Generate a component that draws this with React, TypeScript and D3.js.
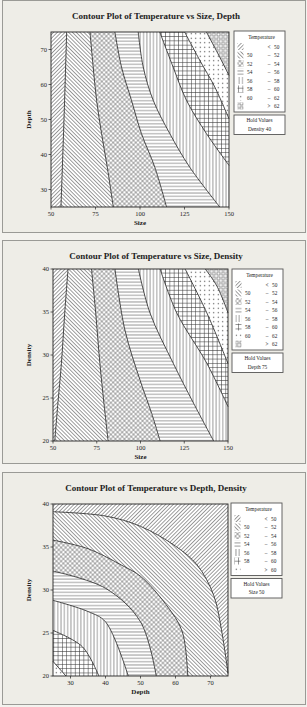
import * as d3 from "d3";
import React from "react";

type Pt = [number, number];

// contour levels for temperature
const levels8 = [50, 52, 54, 56, 58, 60, 62];
const levels7 = [50, 52, 54, 56, 58, 60];

// panel 1: Size (x) vs Depth (y), Density held at 40
const sizeDepthCurves: Pt[][] = [
  [[58.8, 75], [57.3, 50], [55.6, 25]],
  [[71.9, 75], [73.7, 65], [75.6, 55.5], [78.4, 46], [81.6, 36.4], [85, 25]],
  [[85.9, 75], [89.6, 65], [95.2, 55.5], [100.8, 46], [108.3, 36.4], [114.9, 25]],
  [[99, 75], [101.8, 65], [107.4, 55.5], [116.7, 46], [127.9, 36.4], [144.8, 25]],
  [[111.1, 75], [118.6, 65], [126.1, 55.5], [137.3, 46], [150, 36.9]],
  [[125.1, 75], [133.6, 66.9], [142, 59.3], [150, 50.2]],
  [[137.3, 75], [143.8, 68.8], [150, 62.6]],
];

// panel 2: Size (x) vs Density (y), Depth held at 75
const sizeDensityCurves: Pt[][] = [
  [[58.6, 40], [56.7, 34.9], [54.8, 29], [52.8, 24.4], [51, 20]],
  [[72, 40], [74.4, 34.9], [76.8, 29], [79.1, 24.4], [81.5, 20]],
  [[85.4, 40], [91.1, 32.9], [99.7, 27.1], [106.4, 23.2], [111.2, 20]],
  [[98.8, 40], [105.4, 34.9], [118.8, 29], [130.3, 24.4], [141.8, 20]],
  [[111.2, 40], [120.7, 34.9], [138, 29], [150, 24]],
  [[125.5, 40], [137.9, 34.9], [150, 29]],
  [[137, 40], [143.7, 38], [150, 34.9]],
];

// panel 3: Depth (x) vs Density (y), Size held at 50
const depthDensityCurves: Pt[][] = [
  [[25, 39.1], [40, 38.6], [50, 37.4], [60, 35.1], [66.2, 32.9], [70.9, 29.4], [73.2, 25.2], [75, 20.3]],
  [[25, 35.8], [35, 34.8], [45, 32.8], [50, 31.6], [57.3, 28.3], [61.9, 25.2], [63.5, 20]],
  [[25, 32.2], [40, 30.2], [50, 26.3], [54.5, 20]],
  [[25, 28.8], [35, 27.5], [40, 26.3], [46.5, 20]],
  [[25, 25.3], [33.4, 23.4], [38.1, 20]],
  [[25, 21.7], [28.7, 20]],
];

const sizeTicks = [50, 75, 100, 125, 150];
const depthTicks = [30, 40, 50, 60, 70];
const depthTicks3 = [30, 40, 50, 60, 70];
const densityTicks = [20, 25, 30, 35, 40];

const ink = "#3a3a3a";

const Patterns = () => (
  <defs>
    <pattern id="h0" width="2.7" height="2.7" patternUnits="userSpaceOnUse" patternTransform="rotate(45)">
      <rect width="2.7" height="2.7" fill="#fff" />
      <line x1="1.35" y1="0" x2="1.35" y2="2.7" stroke={ink} strokeWidth="0.5" />
    </pattern>
    <pattern id="h1" width="2.7" height="2.7" patternUnits="userSpaceOnUse" patternTransform="rotate(-45)">
      <rect width="2.7" height="2.7" fill="#fff" />
      <line x1="1.35" y1="0" x2="1.35" y2="2.7" stroke={ink} strokeWidth="0.5" />
    </pattern>
    <pattern id="h2" width="3.2" height="3.2" patternUnits="userSpaceOnUse" patternTransform="rotate(45)">
      <rect width="3.2" height="3.2" fill="#fff" />
      <line x1="1.6" y1="0" x2="1.6" y2="3.2" stroke={ink} strokeWidth="0.4" />
      <line x1="0" y1="1.6" x2="3.2" y2="1.6" stroke={ink} strokeWidth="0.4" />
    </pattern>
    <pattern id="h3" width="4" height="3.3" patternUnits="userSpaceOnUse">
      <rect width="4" height="3.3" fill="#fff" />
      <line x1="0" y1="1.65" x2="4" y2="1.65" stroke={ink} strokeWidth="0.55" />
    </pattern>
    <pattern id="h4" width="3.3" height="4" patternUnits="userSpaceOnUse">
      <rect width="3.3" height="4" fill="#fff" />
      <line x1="1.65" y1="0" x2="1.65" y2="4" stroke={ink} strokeWidth="0.55" />
    </pattern>
    <pattern id="h5" width="4.3" height="4.3" patternUnits="userSpaceOnUse">
      <rect width="4.3" height="4.3" fill="#fff" />
      <line x1="2.15" y1="0" x2="2.15" y2="4.3" stroke={ink} strokeWidth="0.55" />
      <line x1="0" y1="2.15" x2="4.3" y2="2.15" stroke={ink} strokeWidth="0.55" />
    </pattern>
    <pattern id="h6" width="4.5" height="4.5" patternUnits="userSpaceOnUse">
      <rect width="4.5" height="4.5" fill="#fff" />
      <circle cx="2.25" cy="2.25" r="0.6" fill={ink} />
    </pattern>
    <pattern id="h7" width="4.6" height="4.6" patternUnits="userSpaceOnUse">
      <rect width="4.6" height="4.6" fill="#fff" />
      <rect x="0.9" y="0.9" width="2.8" height="2.8" fill="none" stroke={ink} strokeWidth="0.5" />
    </pattern>
  </defs>
);

interface PanelProps {
  top: number;
  frameH: number;
  title: string;
  plot: { x0: number; x1: number; y0: number; y1: number };
  xDomain: [number, number];
  yDomain: [number, number];
  xTicks: number[];
  yTicks: number[];
  xLabel: string;
  yLabel: string;
  curves: Pt[][];
  levels: number[];
  hot: "tr" | "bl";
  legendX: number;
  legendY: number;
  hold: string;
  holdValue: number;
}

// walk the plot border from the curve end back to its start, on the hot side
function regionPath(px: Pt[], r: PanelProps["plot"], hot: "tr" | "bl") {
  const W = r.x1 - r.x0;
  const H = r.y1 - r.y0;
  const P = 2 * W + 2 * H;
  const param = ([x, y]: Pt) => {
    const d = [Math.abs(y - r.y0), Math.abs(x - r.x1), Math.abs(y - r.y1), Math.abs(x - r.x0)];
    const e = d.indexOf(Math.min(...d));
    if (e === 0) return x - r.x0;
    if (e === 1) return W + (y - r.y0);
    if (e === 2) return W + H + (r.x1 - x);
    return 2 * W + H + (r.y1 - y);
  };
  const corners: { t: number; p: Pt }[] = [
    { t: 0, p: [r.x0, r.y0] },
    { t: W, p: [r.x1, r.y0] },
    { t: W + H, p: [r.x1, r.y1] },
    { t: 2 * W + H, p: [r.x0, r.y1] },
  ];
  const hotT = hot === "tr" ? W : 2 * W + H;
  const tS = param(px[0]);
  const tE = param(px[px.length - 1]);
  const fwd = (a: number, b: number) => ((b - a) % P + P) % P;
  let chosen: Pt[];
  if (fwd(tE, hotT) < fwd(tE, tS)) {
    chosen = corners
      .filter((c) => fwd(tE, c.t) > 0 && fwd(tE, c.t) < fwd(tE, tS))
      .sort((a, b) => fwd(tE, a.t) - fwd(tE, b.t))
      .map((c) => c.p);
  } else {
    chosen = corners
      .filter((c) => fwd(c.t, tE) > 0 && fwd(c.t, tE) < fwd(tS, tE))
      .sort((a, b) => fwd(a.t, tE) - fwd(b.t, tE))
      .map((c) => c.p);
  }
  const line = d3.line<Pt>().curve(d3.curveCatmullRom.alpha(0.5));
  return line(px) + chosen.map((c) => `L${c[0]},${c[1]}`).join("") + "Z";
}

const Panel = (p: PanelProps) => {
  const { plot } = p;
  const x = d3.scaleLinear().domain(p.xDomain).range([plot.x0, plot.x1]);
  const y = d3.scaleLinear().domain(p.yDomain).range([plot.y1, plot.y0]);
  const line = d3.line<Pt>().curve(d3.curveCatmullRom.alpha(0.5));
  const pxCurves = p.curves.map((c) => c.map((d) => [x(d[0]), y(d[1])] as Pt));
  const nRows = p.levels.length + 1;
  const rowH = 8.5;
  const legW = 51;
  const legH = 15.5 + (nRows - 1) * rowH + 6;
  const lx = p.legendX;
  const ly = p.legendY;
  const rows = d3.range(nRows).map((i) => {
    if (i === 0) return { lo: "", dash: "<", hi: String(p.levels[0]) };
    if (i === nRows - 1) return { lo: "", dash: ">", hi: String(p.levels[p.levels.length - 1]) };
    return { lo: String(p.levels[i - 1]), dash: "–", hi: String(p.levels[i]) };
  });
  const cx = (plot.x0 + plot.x1) / 2;
  const cy = (plot.y0 + plot.y1) / 2;
  const txt = { fontFamily: "Liberation Serif, serif", fill: "#222" };
  return (
    <g>
      <rect x={2.5} y={p.top + 0.5} width={303} height={p.frameH} fill="#eeede7" stroke="#9a9a96" strokeWidth={1} />
      <text x={156} y={p.top + 19} textAnchor="middle" fontSize={9} fontWeight="bold" {...txt}>
        {p.title}
      </text>
      <rect x={plot.x0} y={plot.y0} width={plot.x1 - plot.x0} height={plot.y1 - plot.y0} fill="url(#h0)" />
      {pxCurves.map((c, i) => (
        <path key={"r" + i} d={regionPath(c, plot, p.hot)} fill={`url(#h${i + 1})`} />
      ))}
      {pxCurves.map((c, i) => (
        <path key={"c" + i} d={line(c) ?? ""} fill="none" stroke="#222" strokeWidth={0.8} />
      ))}
      <rect x={plot.x0} y={plot.y0} width={plot.x1 - plot.x0} height={plot.y1 - plot.y0} fill="none" stroke="#222" strokeWidth={0.9} />
      {p.xTicks.map((t) => (
        <g key={"x" + t}>
          <line x1={x(t)} x2={x(t)} y1={plot.y1} y2={plot.y1 + 2.5} stroke="#222" strokeWidth={0.7} />
          <text x={x(t)} y={plot.y1 + 9} textAnchor="middle" fontSize={6.5} {...txt}>
            {t}
          </text>
        </g>
      ))}
      {p.yTicks.map((t) => (
        <g key={"y" + t}>
          <line x1={plot.x0 - 2.5} x2={plot.x0} y1={y(t)} y2={y(t)} stroke="#222" strokeWidth={0.7} />
          <text x={plot.x0 - 4} y={y(t) + 2.2} textAnchor="end" fontSize={6.5} {...txt}>
            {t}
          </text>
        </g>
      ))}
      <text x={cx} y={plot.y1 + 18} textAnchor="middle" fontSize={7} fontWeight="bold" {...txt}>
        {p.xLabel}
      </text>
      <text transform={`translate(31,${cy}) rotate(-90)`} textAnchor="middle" fontSize={7} fontWeight="bold" {...txt}>
        {p.yLabel}
      </text>
      <rect x={lx} y={ly} width={legW} height={legH} fill="#fff" stroke="#555" strokeWidth={0.9} />
      <text x={lx + legW / 2 + 2} y={ly + 7.5} textAnchor="middle" fontSize={5.3} {...txt}>
        Temperature
      </text>
      {rows.map((r, i) => {
        const ry = ly + 15.5 + i * rowH;
        return (
          <g key={"l" + i}>
            <rect x={lx + 3.5} y={ry - 3.5} width={6} height={7} fill={`url(#h${i})`} />
            <text x={lx + 13} y={ry + 2} fontSize={5.3} {...txt}>
              {r.lo}
            </text>
            <text x={lx + 35} y={ry + 2} textAnchor="middle" fontSize={5.3} {...txt}>
              {r.dash}
            </text>
            <text x={lx + 40} y={ry + 2} fontSize={5.3} {...txt}>
              {r.hi}
            </text>
          </g>
        );
      })}
      <rect x={lx} y={ly + legH + 3} width={legW} height={19.5} fill="#fff" stroke="#555" strokeWidth={0.9} />
      <text x={lx + legW / 2} y={ly + legH + 10} textAnchor="middle" fontSize={5.3} {...txt}>
        Hold Values
      </text>
      <text x={lx + legW / 2} y={ly + legH + 18.5} textAnchor="middle" fontSize={5.3} {...txt}>
        {`${p.hold}  ${p.holdValue}`}
      </text>
    </g>
  );
};

export default function App() {
  return (
    <svg
      width={307}
      height={707}
      style={{ position: "absolute", left: 0, top: 0, background: "#f3f2ee" }}
    >
      <Patterns />
      <Panel
        top={0}
        frameH={232}
        title="Contour Plot of Temperature vs Size, Depth"
        plot={{ x0: 51, x1: 229, y0: 32, y1: 207 }}
        xDomain={[50, 150]}
        yDomain={[25, 75]}
        xTicks={sizeTicks}
        yTicks={depthTicks}
        xLabel="Size"
        yLabel="Depth"
        curves={sizeDepthCurves}
        levels={levels8}
        hot="tr"
        legendX={234}
        legendY={31}
        hold="Density"
        holdValue={40}
      />
      <Panel
        top={240}
        frameH={223}
        title="Contour Plot of Temperature vs Size, Density"
        plot={{ x0: 53, x1: 228, y0: 269, y1: 441 }}
        xDomain={[50, 150]}
        yDomain={[20, 40]}
        xTicks={sizeTicks}
        yTicks={densityTicks}
        xLabel="Size"
        yLabel="Density"
        curves={sizeDensityCurves}
        levels={levels8}
        hot="tr"
        legendX={232}
        legendY={269}
        hold="Depth"
        holdValue={75}
      />
      <Panel
        top={472}
        frameH={232}
        title="Contour Plot of Temperature vs Depth, Density"
        plot={{ x0: 53, x1: 228, y0: 504, y1: 676 }}
        xDomain={[25, 75]}
        yDomain={[20, 40]}
        xTicks={depthTicks3}
        yTicks={densityTicks}
        xLabel="Depth"
        yLabel="Density"
        curves={depthDensityCurves}
        levels={levels7}
        hot="bl"
        legendX={231}
        legendY={503}
        hold="Size"
        holdValue={50}
      />
    </svg>
  );
}
